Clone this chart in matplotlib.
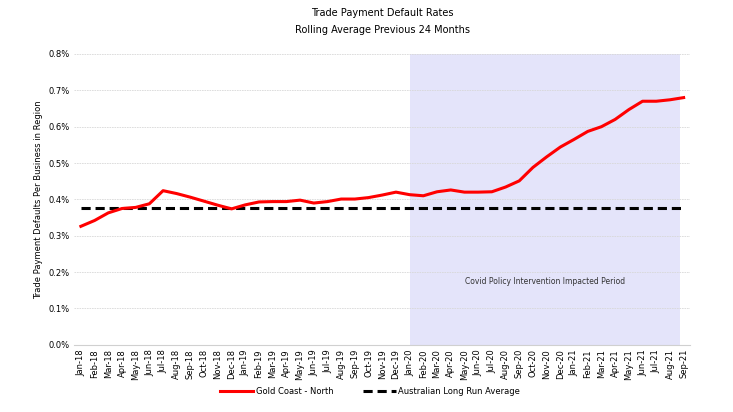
import matplotlib.pyplot as plt
import numpy as np

plt.rcParams['font.family'] = ['Liberation Sans Narrow', 'DejaVu Sans']

months = ['Jan-18', 'Feb-18', 'Mar-18', 'Apr-18', 'May-18', 'Jun-18', 'Jul-18', 'Aug-18',
          'Sep-18', 'Oct-18', 'Nov-18', 'Dec-18', 'Jan-19', 'Feb-19', 'Mar-19', 'Apr-19',
          'May-19', 'Jun-19', 'Jul-19', 'Aug-19', 'Sep-19', 'Oct-19', 'Nov-19', 'Dec-19',
          'Jan-20', 'Feb-20', 'Mar-20', 'Apr-20', 'May-20', 'Jun-20', 'Jul-20', 'Aug-20',
          'Sep-20', 'Oct-20', 'Nov-20', 'Dec-20', 'Jan-21', 'Feb-21', 'Mar-21', 'Apr-21',
          'May-21', 'Jun-21', 'Jul-21', 'Aug-21', 'Sep-21']

# default rate, percent
gold_coast_north = [0.326, 0.342, 0.363, 0.375, 0.378, 0.388, 0.424, 0.416,
                    0.406, 0.395, 0.384, 0.374, 0.385, 0.393, 0.394, 0.394,
                    0.398, 0.390, 0.394, 0.401, 0.401, 0.405, 0.412, 0.420,
                    0.413, 0.410, 0.421, 0.426, 0.420, 0.420, 0.421, 0.434,
                    0.451, 0.488, 0.517, 0.544, 0.565, 0.587, 0.600, 0.620,
                    0.647, 0.670, 0.670, 0.674, 0.680]
long_run_avg = 0.3765

# covid period: from Jan-20 to just before Sep-21
covid_start = 24
covid_end = 43.7

x = np.arange(len(months))

fig = plt.figure(figsize=(7.33, 4.12), dpi=100)
ax = fig.add_axes([0.101, 0.163, 0.841, 0.706])

ax.axvspan(covid_start, covid_end, color='#e4e4fa', lw=0, zorder=0)
ax.plot(x, gold_coast_north, color='#ff0000', lw=2.2, label='Gold Coast - North', zorder=3)
ax.plot(x, [long_run_avg] * len(x), color='black', lw=2.2, ls=(0, (3, 1.6)),
        label='Australian Long Run Average', zorder=2)

ax.text(33.9, 0.173, 'Covid Policy Intervention Impacted Period', ha='center', va='center',
        fontsize=5.5, color='#333333')

ax.set_xlim(-0.5, len(months) - 0.5)
ax.set_ylim(0, 0.8)
ax.set_yticks(np.arange(0, 0.81, 0.1))
ax.set_yticklabels(['%.1f%%' % v for v in np.arange(0, 0.81, 0.1)], fontsize=6)
ax.set_xticks(x)
ax.set_xticklabels(months, rotation=90, fontsize=6)
ax.tick_params(axis='both', length=0, pad=3)
ax.set_ylabel('Trade Payment Defaults Per Business in Region', fontsize=6)
ax.grid(axis='y', color='#d8d8d8', ls=(0, (2, 1)), lw=0.6)
ax.set_axisbelow(True)
for s in ['top', 'right', 'left']:
    ax.spines[s].set_visible(False)
ax.spines['bottom'].set_color('#d0d0d0')

ax.set_title('Trade Payment Default Rates\nRolling Average Previous 24 Months', fontsize=7,
             pad=15, linespacing=1.85)

fig.legend(loc='center', bbox_to_anchor=(0.505, 0.05), ncol=2, frameon=False, fontsize=6,
           handlelength=4, handletextpad=0.3, columnspacing=3.5)

fig.savefig('out.png', dpi=100)
